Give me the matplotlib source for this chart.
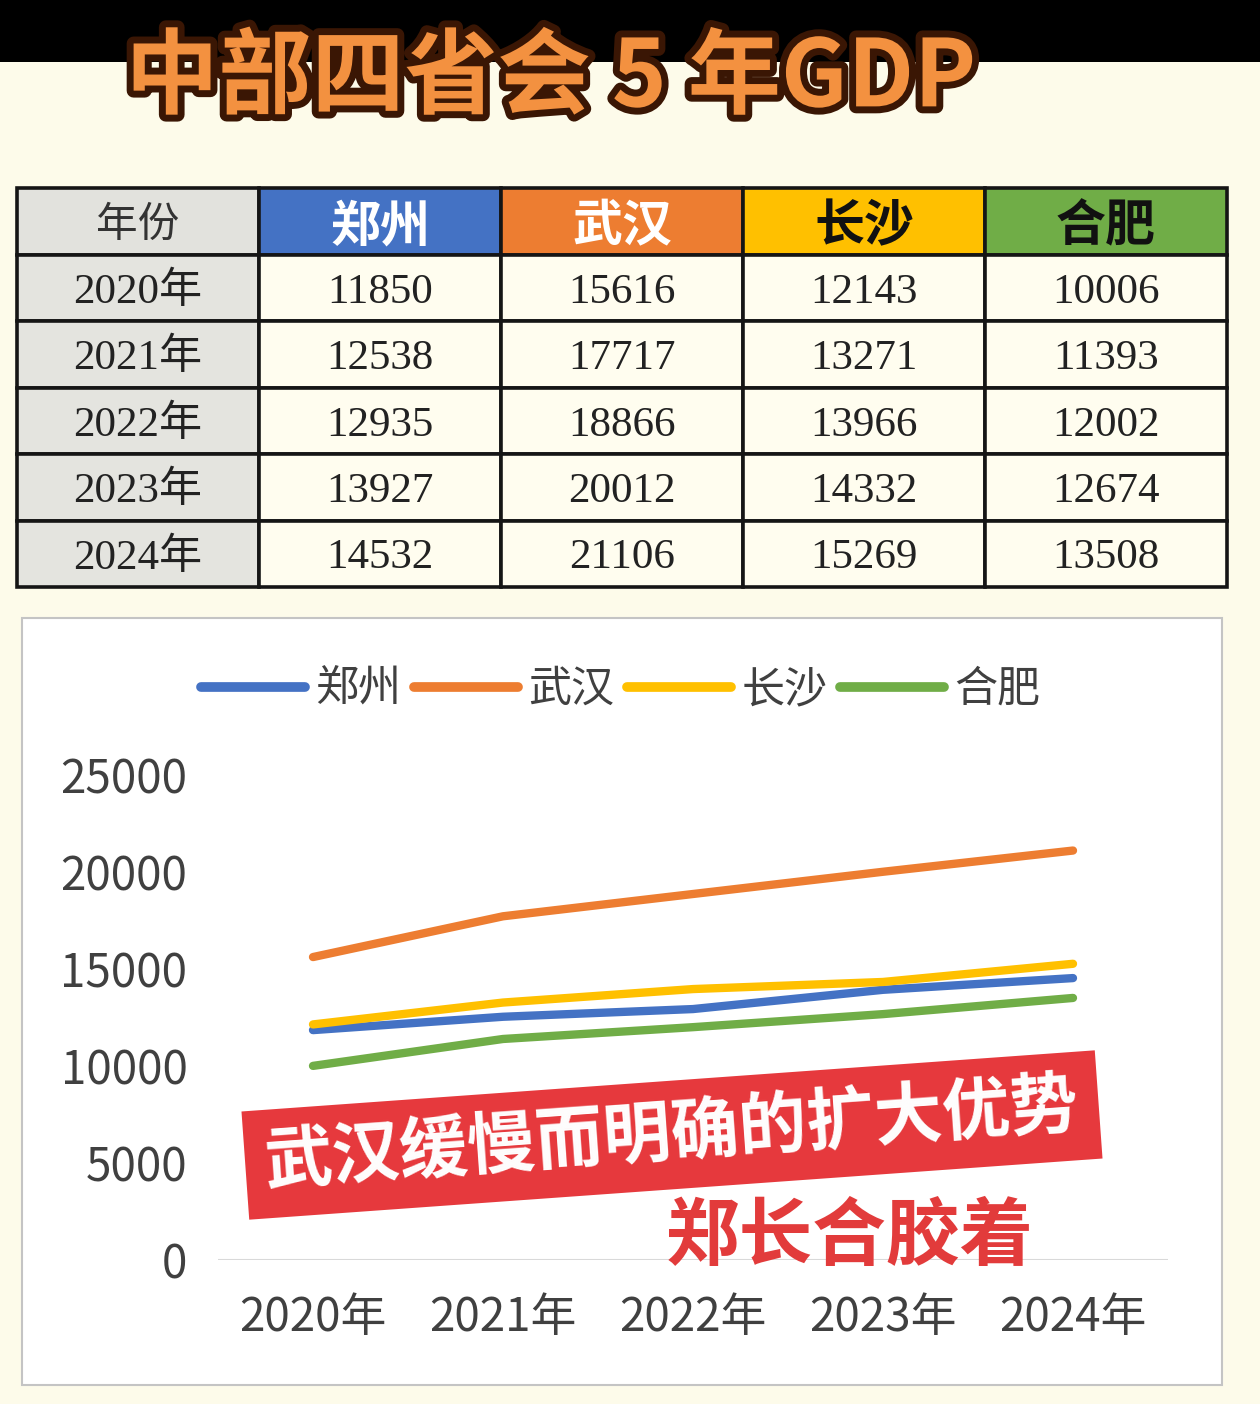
import matplotlib
matplotlib.use('Agg')
import matplotlib.pyplot as plt
import matplotlib.patheffects as pe
from matplotlib.patches import Rectangle
from matplotlib.lines import Line2D

plt.rcParams['font.family'] = ['Noto Sans CJK SC', 'DejaVu Sans']

# 数据
years = ['2020年', '2021年', '2022年', '2023年', '2024年']
cities = ['郑州', '武汉', '长沙', '合肥']
zhengzhou = [11850, 12538, 12935, 13927, 14532]
wuhan = [15616, 17717, 18866, 20012, 21106]
changsha = [12143, 13271, 13966, 14332, 15269]
hefei = [10006, 11393, 12002, 12674, 13508]
series = [zhengzhou, wuhan, changsha, hefei]
colors = ['#4472c4', '#ed7d31', '#ffc000', '#70ad47']
y_ticks = [0, 5000, 10000, 15000, 20000, 25000]

W, H = 1260, 1404
fig = plt.figure(figsize=(W / 100, H / 100), dpi=100)
fig.patch.set_facecolor('#fdfbea')

# 顶部黑条 + 标题
fig.patches.append(Rectangle((0, 1 - 62 / H), 1, 62 / H, transform=fig.transFigure,
                             facecolor='black', edgecolor='none', zorder=-3))
fig.text(0.437, 0.944, '中部四省会 5 年GDP', fontsize=67, weight='bold',
         color='#f39140', ha='center', va='center',
         path_effects=[pe.withStroke(linewidth=10, foreground='#3a1604')])

# 表格
tax = fig.add_axes([17 / W, 1 - 587 / H, 1210 / W, 399 / H])
tax.axis('off')
rows = [['年份'] + cities]
for i, y in enumerate(years):
    rows.append([y] + [str(s[i]) for s in series])
tb = tax.table(cellText=rows, bbox=[0, 0, 1, 1], cellLoc='center')
tb.auto_set_font_size(False)
serif = ['Liberation Serif', 'Noto Sans CJK SC']
for (r, c), cell in tb.get_celld().items():
    cell.set_linewidth(2.6)
    cell.set_edgecolor('#151515')
    t = cell.get_text()
    t.set_va('center_baseline')
    if r == 0:
        if c == 0:
            cell.set_facecolor('#e2e2dd')
            t.set_fontsize(30)
            t.set_color('#333333')
        else:
            cell.set_facecolor(colors[c - 1])
            t.set_fontsize(36)
            t.set_fontweight('bold')
            t.set_color('white' if c in (1, 2) else '#111111')
    else:
        cell.set_facecolor('#e4e4df' if c == 0 else '#fffdef')
        t.set_fontfamily(serif)
        t.set_fontsize(31)
        t.set_color('#222222')

# 图表面板
fig.patches.append(Rectangle((22 / W, 19 / H), 1200 / W, 767 / H, transform=fig.transFigure,
                             facecolor='white', edgecolor='#c4c4c4', linewidth=1.5, zorder=-2))

ax = fig.add_axes([218 / W, 144 / H, 950 / W, 485 / H])
ax.set_facecolor('none')
x = range(len(years))
for s, col in zip(series, colors):
    ax.plot(x, s, color=col, lw=6, solid_capstyle='round')
ax.set_xlim(-0.5, 4.5)
ax.set_ylim(0, 25000)
ax.set_yticks(y_ticks)
ax.set_yticklabels([str(v) for v in y_ticks])
ax.set_xticks(list(x))
ax.set_xticklabels(years)
for sp in ax.spines.values():
    sp.set_visible(False)
ax.axhline(0, color='#d9d9d9', lw=1.5, zorder=0)
ax.tick_params(axis='y', length=0, pad=22, labelsize=33, labelcolor='#404040')
ax.tick_params(axis='x', length=0, pad=24, labelsize=33, labelcolor='#404040')

handles = [Line2D([0], [0], color=c, lw=7, solid_capstyle='round') for c in colors]
fig.legend(handles, cities, loc='center', bbox_to_anchor=(621 / W, 1 - 690 / H),
           ncol=4, frameon=False, fontsize=31, handlelength=2.4, handletextpad=0.25,
           columnspacing=0.3, labelcolor='#404040')

# 注释
fig.text(672 / W, 1 - 1135 / H, '武汉缓慢而明确的扩大优势', fontsize=49, weight='bold',
         color='white', ha='center', va='center', rotation=4.1, rotation_mode='anchor',
         bbox=dict(boxstyle='square,pad=0.29', facecolor='#e6393d', edgecolor='none'))
fig.text(850 / W, 1 - 1238 / H, '郑长合胶着', fontsize=53, weight='bold',
         color='#e23b3b', ha='center', va='center')

fig.savefig('out.png', dpi=100)
